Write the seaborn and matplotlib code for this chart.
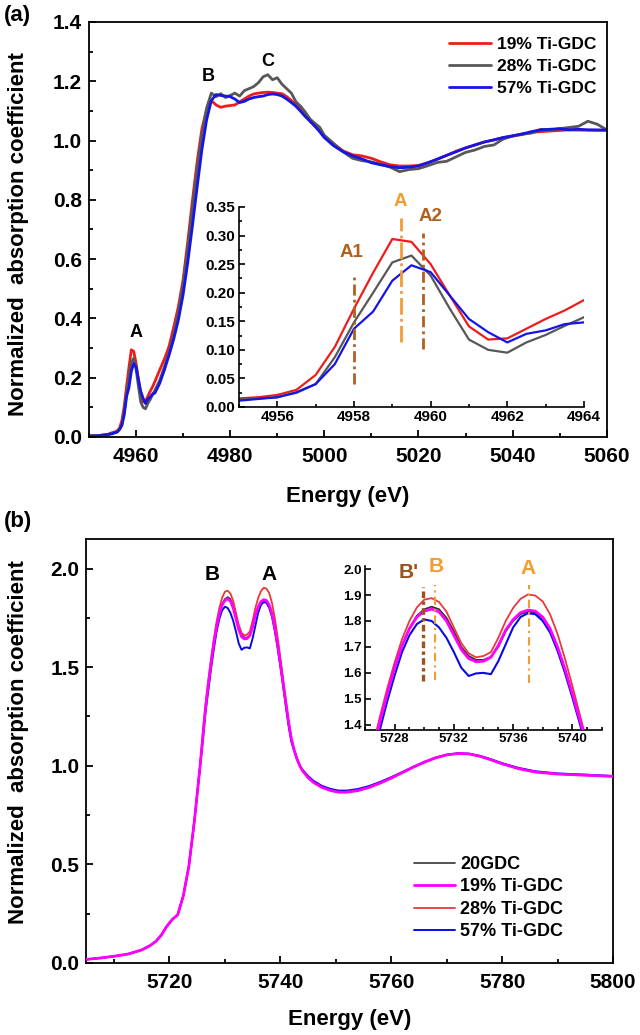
import numpy as np
import pandas as pd
import seaborn as sns
import matplotlib.pyplot as plt
from matplotlib.ticker import MultipleLocator, FormatStrFormatter

# ---- panel (a): Ti K-edge XANES ----
e_a = [4950, 4952, 4954, 4955, 4955.5, 4956, 4956.5, 4957, 4957.5, 4958, 4958.5,
       4959, 4959.5, 4960, 4960.5, 4961, 4961.5, 4962, 4962.5, 4963, 4963.5, 4964,
       4965, 4966, 4967, 4968, 4969, 4970, 4971, 4972, 4973, 4974, 4975, 4976,
       4977, 4978, 4979, 4980, 4981, 4982, 4983, 4984, 4985, 4986, 4987, 4988,
       4989, 4990, 4991, 4992, 4993, 4994, 4995, 4996, 4997, 4998, 4999, 5000,
       5002, 5004, 5006, 5008, 5010, 5012, 5014, 5016, 5018, 5020, 5022, 5024,
       5026, 5028, 5030, 5032, 5034, 5036, 5038, 5040, 5042, 5044, 5046, 5048,
       5050, 5052, 5054, 5056, 5058, 5060]
ti19_a = [0.004, 0.005, 0.009, 0.015, 0.017, 0.021, 0.030, 0.056, 0.105, 0.172, 0.235,
          0.294, 0.289, 0.250, 0.195, 0.141, 0.118, 0.120, 0.137, 0.154, 0.169, 0.187,
          0.225, 0.262, 0.305, 0.370, 0.440, 0.530, 0.660, 0.800, 0.930, 1.040, 1.105, 1.135,
          1.120, 1.112, 1.116, 1.118, 1.120, 1.130, 1.140, 1.150, 1.157, 1.160, 1.162, 1.163,
          1.162, 1.160, 1.158, 1.148, 1.135, 1.120, 1.104, 1.085, 1.064, 1.050, 1.035, 1.012,
          0.988, 0.965, 0.952, 0.948, 0.940, 0.928, 0.918, 0.914, 0.914, 0.916, 0.925, 0.937,
          0.950, 0.964, 0.975, 0.985, 0.995, 1.002, 1.010, 1.015, 1.020, 1.027, 1.030, 1.032,
          1.034, 1.036, 1.035, 1.035, 1.034, 1.035]
ti28_a = [0.003, 0.004, 0.008, 0.013, 0.015, 0.017, 0.026, 0.040, 0.087, 0.148, 0.200,
          0.253, 0.265, 0.230, 0.172, 0.118, 0.100, 0.095, 0.113, 0.126, 0.142, 0.157,
          0.190, 0.235, 0.285, 0.345, 0.420, 0.515, 0.640, 0.775, 0.905, 1.020, 1.110, 1.160,
          1.148, 1.158, 1.145, 1.152, 1.160, 1.150, 1.168, 1.175, 1.182, 1.195, 1.215, 1.222,
          1.205, 1.212, 1.190, 1.175, 1.160, 1.130, 1.115, 1.095, 1.072, 1.058, 1.045, 1.018,
          0.990, 0.962, 0.940, 0.932, 0.928, 0.920, 0.910, 0.895, 0.902, 0.905, 0.915, 0.926,
          0.930, 0.945, 0.960, 0.968, 0.980, 0.985, 1.005, 1.015, 1.022, 1.025, 1.038, 1.035,
          1.040, 1.044, 1.048, 1.065, 1.055, 1.036]
ti57_a = [0.003, 0.004, 0.008, 0.011, 0.014, 0.017, 0.025, 0.040, 0.075, 0.137, 0.167,
          0.221, 0.248, 0.236, 0.195, 0.154, 0.131, 0.113, 0.128, 0.134, 0.145, 0.148,
          0.180, 0.225, 0.275, 0.330, 0.395, 0.480, 0.590, 0.715, 0.845, 0.970, 1.070, 1.135,
          1.155, 1.152, 1.150, 1.148, 1.140, 1.128, 1.132, 1.140, 1.145, 1.148, 1.150, 1.155,
          1.157, 1.155, 1.150, 1.140, 1.128, 1.115, 1.098, 1.080, 1.065, 1.048, 1.030, 1.010,
          0.982, 0.962, 0.948, 0.938, 0.925, 0.918, 0.912, 0.908, 0.910, 0.914, 0.925, 0.937,
          0.950, 0.962, 0.975, 0.985, 0.995, 1.002, 1.010, 1.016, 1.022, 1.030, 1.036, 1.038,
          1.040, 1.036, 1.038, 1.036, 1.036, 1.035]

labels_a = ['A', 'B', 'C']
labels_a_x = [4960, 4975.3, 4987.9]
labels_a_y = [0.354, 1.215, 1.265]

inset_a_names = ['A1', 'A', 'A2']
inset_a_x = [4958.0, 4959.22, 4959.8]
inset_a_ymin = [0.04, 0.113, 0.102]
inset_a_ymax = [0.235, 0.33, 0.305]
inset_a_label_x = [4957.93, 4959.22, 4960.0]
inset_a_label_y = [0.271, 0.36, 0.334]

# ---- panel (b): Ce L3-edge XANES ----
e_b = [5705, 5707.5, 5710, 5712.5, 5715, 5716.5, 5717.5, 5718.5, 5719.5, 5720.5, 5721.5,
       5722.5, 5723.5, 5724.5, 5725.5, 5726,
       5726.5, 5727, 5727.5, 5728, 5728.5, 5729, 5729.5, 5730, 5730.5, 5731, 5731.5,
       5732, 5732.5, 5733, 5733.5, 5734, 5734.5, 5735, 5735.5, 5736, 5736.5, 5737,
       5737.5, 5738, 5738.5, 5739, 5739.5, 5740, 5740.5, 5741, 5741.5, 5742,
       5742.5, 5743, 5743.5, 5744, 5745, 5746, 5747.5, 5749, 5750.5, 5752, 5754, 5756,
       5758, 5760, 5762, 5764, 5766, 5768, 5770, 5772, 5774, 5776, 5778, 5780, 5783,
       5786, 5790, 5795, 5800]
pre_b = [0.018, 0.025, 0.034, 0.045, 0.066, 0.088, 0.108, 0.140, 0.185, 0.220, 0.245,
         0.340, 0.490, 0.720, 0.990]
tail_b = [1.08, 1.035, 1.000, 0.975, 0.940, 0.915, 0.890, 0.875, 0.866, 0.866, 0.874, 0.890,
          0.912, 0.937, 0.965, 0.993, 1.018, 1.040, 1.055, 1.062, 1.060, 1.048, 1.030, 1.010,
          0.985, 0.968, 0.958, 0.952, 0.946]
gdc_b = pre_b + [1.14,
                 1.29, 1.41, 1.52, 1.62, 1.705, 1.772, 1.82, 1.845, 1.855, 1.845, 1.812,
                 1.76, 1.70, 1.665, 1.65, 1.65, 1.662, 1.70, 1.76, 1.80, 1.826, 1.836,
                 1.832, 1.81, 1.765, 1.695, 1.61, 1.515, 1.415, 1.315, 1.215, 1.13] + tail_b
ti19_b = pre_b + [1.14,
                  1.29, 1.41, 1.52, 1.62, 1.705, 1.77, 1.815, 1.838, 1.846, 1.835, 1.80,
                  1.745, 1.69, 1.655, 1.643, 1.645, 1.66, 1.705, 1.765, 1.805, 1.832, 1.842,
                  1.838, 1.815, 1.77, 1.70, 1.615, 1.52, 1.42, 1.32, 1.22, 1.135] + tail_b
ti28_b = pre_b + [1.16,
                  1.31, 1.43, 1.54, 1.64, 1.73, 1.80, 1.852, 1.882, 1.888, 1.873, 1.836,
                  1.775, 1.715, 1.675, 1.66, 1.665, 1.68, 1.735, 1.80, 1.85, 1.885, 1.902,
                  1.898, 1.875, 1.825, 1.75, 1.655, 1.55, 1.44, 1.33, 1.22, 1.14] + tail_b
ti57_b = pre_b + [1.12,
                  1.27, 1.38, 1.49, 1.59, 1.68, 1.745, 1.788, 1.806, 1.80, 1.775, 1.735,
                  1.68, 1.62, 1.588, 1.598, 1.60, 1.595, 1.645, 1.71, 1.775, 1.815, 1.83,
                  1.826, 1.80, 1.755, 1.685, 1.60, 1.505, 1.405, 1.30, 1.20, 1.12] + \
         [1.075, 1.035, 1.002, 0.98, 0.948, 0.923, 0.898, 0.883, 0.874, 0.874, 0.882, 0.897,
          0.918, 0.942, 0.968, 0.995, 1.02, 1.041, 1.056, 1.063, 1.061, 1.05, 1.033, 1.013,
          0.989, 0.972, 0.961, 0.955, 0.948]

labels_b = ['B', 'A']
labels_b_x = [5727.7, 5738.0]
labels_b_y = [1.97, 1.97]

inset_b_names = ["B'", 'B', 'A']
inset_b_x = [5729.9, 5730.7, 5737.1]
inset_b_ymin = [1.569, 1.573, 1.56]
inset_b_ymax = [1.932, 1.94, 1.94]
inset_b_label_x = [5728.98, 5730.8, 5737.0]
inset_b_label_y = [1.985, 2.008, 2.004]

BROWN = '#b0601e'
DARK_BROWN = '#9c521c'
ORANGE = '#f39c32'

sns.set_theme(style='ticks', rc={'axes.edgecolor': 'black', 'xtick.color': 'black',
                                 'ytick.color': 'black', 'text.color': 'black',
                                 'axes.labelcolor': 'black'})
plt.rcParams['font.family'] = ['Liberation Sans', 'DejaVu Sans']
plt.rcParams['font.weight'] = 'bold'
plt.rcParams['axes.labelweight'] = 'bold'


def style_axes(ax, size, lw, pad, inset=False):
    ax.tick_params(which='both', direction='in', width=lw, labelsize=size,
                   top=False, right=False)
    ax.tick_params(axis='y', pad=pad)
    ax.tick_params(axis='x', pad=pad + (0 if inset else 2.5))
    ax.tick_params(which='major', length=5 if not inset else 4)
    ax.tick_params(which='minor', length=3 if not inset else 2.5)
    for name, sp in ax.spines.items():
        sp.set_linewidth(lw)
        sp.set_color('black')
        if inset and name in ('top', 'right'):
            sp.set_visible(False)


fig = plt.figure(figsize=(6.4, 10.35), dpi=100)

# ---------------- panel (a) ----------------
ax_a = fig.add_axes([0.139, 0.5778, 0.809, 0.401])
sns.lineplot(x=e_a, y=ti19_a, ax=ax_a, color='#ee1c1c', linewidth=2.0, sort=False,
             label='19% Ti-GDC')
sns.lineplot(x=e_a, y=ti28_a, ax=ax_a, color='#585858', linewidth=2.0, sort=False,
             label='28% Ti-GDC')
sns.lineplot(x=e_a, y=ti57_a, ax=ax_a, color='#1515e6', linewidth=2.0, sort=False,
             label='57% Ti-GDC')
ax_a.set_xlim(4950, 5060)
ax_a.set_ylim(0, 1.4)
ax_a.xaxis.set_major_locator(MultipleLocator(20))
ax_a.xaxis.set_minor_locator(MultipleLocator(10))
ax_a.yaxis.set_major_locator(MultipleLocator(0.2))
ax_a.yaxis.set_minor_locator(MultipleLocator(0.1))
ax_a.yaxis.set_major_formatter(FormatStrFormatter('%.1f'))
style_axes(ax_a, 15, 1.3, 5)
ax_a.set_xlabel('Energy (eV)', fontsize=16)
ax_a.set_ylabel('Normalized  absorption coefficient', fontsize=16)
ax_a.xaxis.set_label_coords(0.5, -0.118)
ax_a.yaxis.set_label_coords(-0.116, 0.49)
for t, x, y in zip(labels_a, labels_a_x, labels_a_y):
    ax_a.text(x, y, t, fontsize=13, fontweight='bold', ha='center', va='center')
ax_a.legend(loc='upper left', bbox_to_anchor=(449 / 640, 1 - 37 / 1035),
            bbox_transform=fig.transFigure, frameon=False, fontsize=12.5,
            borderpad=0, borderaxespad=0, handlelength=2.4, handletextpad=0.35,
            labelspacing=0.38)

# inset (a)
ax_ai = fig.add_axes([0.3734, 0.6068, 0.539, 0.1932])
sns.lineplot(x=e_a, y=ti19_a, ax=ax_ai, color='#ee1c1c', linewidth=1.6, sort=False)
sns.lineplot(x=e_a, y=ti28_a, ax=ax_ai, color='#585858', linewidth=1.6, sort=False)
sns.lineplot(x=e_a, y=ti57_a, ax=ax_ai, color='#1515e6', linewidth=1.6, sort=False)
ax_ai.set_xlim(4955, 4964)
ax_ai.set_ylim(0, 0.35)
ax_ai.patch.set_alpha(0)
ax_ai.xaxis.set_major_locator(MultipleLocator(2))
ax_ai.xaxis.set_minor_locator(MultipleLocator(1))
ax_ai.yaxis.set_major_locator(MultipleLocator(0.05))
ax_ai.yaxis.set_minor_locator(MultipleLocator(0.025))
ax_ai.yaxis.set_major_formatter(FormatStrFormatter('%.2f'))
style_axes(ax_ai, 11, 1.2, 2.5, inset=True)
ax_ai.set_xlabel('')
ax_ai.set_ylabel('')
ax_ai.vlines(inset_a_x, inset_a_ymin, inset_a_ymax,
             colors=[BROWN, ORANGE, BROWN], linewidth=2.0,
             linestyles=[(0, (4, 1.5, 1, 1.5)), (0, (6, 1.5, 1, 1.5)), (0, (4, 1.5, 1, 1.5))])
for t, x, y, c in zip(inset_a_names, inset_a_label_x, inset_a_label_y,
                      [BROWN, ORANGE, BROWN]):
    ax_ai.text(x, y, t, fontsize=13.5, fontweight='bold', color=c, ha='center',
               va='center', clip_on=False)

fig.text(0.006, 1 - 15 / 1035, '(a)', fontsize=16, fontweight='bold', va='center')

# ---------------- panel (b) ----------------
ax_b = fig.add_axes([0.1348, 0.0696, 0.823, 0.4097])
sns.lineplot(x=e_b, y=gdc_b, ax=ax_b, color='#333333', linewidth=1.2, sort=False,
             label='20GDC', zorder=2)
sns.lineplot(x=e_b, y=ti19_b, ax=ax_b, color='#ff00ff', linewidth=2.0, sort=False,
             label='19% Ti-GDC', zorder=5)
sns.lineplot(x=e_b, y=ti28_b, ax=ax_b, color='#e8393a', linewidth=1.3, sort=False,
             label='28% Ti-GDC', zorder=3)
sns.lineplot(x=e_b, y=ti57_b, ax=ax_b, color='#0a0ae8', linewidth=1.4, sort=False,
             label='57% Ti-GDC', zorder=4)
ax_b.set_xlim(5705, 5800)
ax_b.set_ylim(0, 2.15)
ax_b.xaxis.set_major_locator(MultipleLocator(20))
ax_b.xaxis.set_minor_locator(MultipleLocator(10))
ax_b.yaxis.set_major_locator(MultipleLocator(0.5))
ax_b.yaxis.set_minor_locator(MultipleLocator(0.25))
ax_b.yaxis.set_major_formatter(FormatStrFormatter('%.1f'))
style_axes(ax_b, 15, 1.3, 5)
ax_b.set_xlabel('Energy (eV)', fontsize=16)
ax_b.set_ylabel('Normalized  absorption coefficient', fontsize=16)
ax_b.xaxis.set_label_coords(0.5, -0.108)
ax_b.yaxis.set_label_coords(-0.109, 0.52)
for t, x, y in zip(labels_b, labels_b_x, labels_b_y):
    ax_b.text(x, y, t, fontsize=15, fontweight='bold', ha='center', va='center')
ax_b.legend(loc='upper left', bbox_to_anchor=(414 / 640, 1 - 856 / 1035),
            bbox_transform=fig.transFigure, frameon=False, fontsize=13,
            borderpad=0, borderaxespad=0, handlelength=2.25, handletextpad=0.3,
            labelspacing=0.3)

# inset (b)
ax_bi = fig.add_axes([0.5703, 0.2947, 0.3703, 0.158])
sns.lineplot(x=e_b, y=gdc_b, ax=ax_bi, color='#333333', linewidth=1.3, sort=False, zorder=2)
sns.lineplot(x=e_b, y=ti19_b, ax=ax_bi, color='#ff00ff', linewidth=2.0, sort=False, zorder=5)
sns.lineplot(x=e_b, y=ti28_b, ax=ax_bi, color='#e8393a', linewidth=1.3, sort=False, zorder=3)
sns.lineplot(x=e_b, y=ti57_b, ax=ax_bi, color='#0a0ae8', linewidth=1.5, sort=False, zorder=4)
ax_bi.set_xlim(5726, 5742)
ax_bi.set_ylim(1.38, 2.01)
ax_bi.patch.set_alpha(0)
ax_bi.xaxis.set_major_locator(MultipleLocator(4))
ax_bi.xaxis.set_minor_locator(MultipleLocator(1))
ax_bi.yaxis.set_major_locator(MultipleLocator(0.1))
ax_bi.yaxis.set_major_formatter(FormatStrFormatter('%.1f'))
style_axes(ax_bi, 9.5, 1.2, 2.5, inset=True)
ax_bi.set_xlabel('')
ax_bi.set_ylabel('')
ax_bi.vlines(inset_b_x, inset_b_ymin, inset_b_ymax,
             colors=[DARK_BROWN, ORANGE, ORANGE], linewidth=[2.4, 1.5, 1.5],
             linestyles=[(0, (2, 1, 1, 1)), (0, (4, 2, 1, 2)), (0, (4, 2, 1, 2))],
             zorder=6)
for t, x, y, c in zip(inset_b_names, inset_b_label_x, inset_b_label_y,
                      [DARK_BROWN, ORANGE, ORANGE]):
    ax_bi.text(x, y, t, fontsize=15, fontweight='bold', color=c, ha='center',
               va='center', clip_on=False)

fig.text(0.006, 1 - 522 / 1035, '(b)', fontsize=16, fontweight='bold', va='center')

fig.savefig('out.png', dpi=100)
